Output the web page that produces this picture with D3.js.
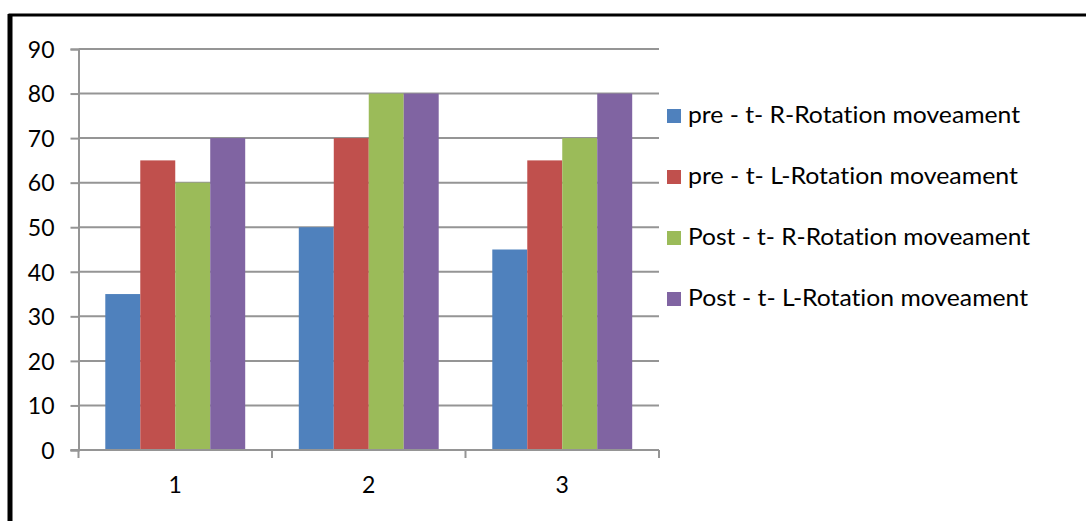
<!DOCTYPE html>
<html>
<head>
<meta charset="utf-8">
<script src="https://cdn.jsdelivr.net/npm/d3@7"></script>
<style>
  html, body { margin: 0; padding: 0; background: #fff; overflow: hidden; }
  svg { display: block; }
  text { font-family: Lato, "Open Sans", sans-serif; fill: #000; font-variant-ligatures: none; font-feature-settings: "liga" 0; }
</style>
</head>
<body>
<svg id="chart" width="1086" height="521"></svg>
<script>
// Categories along the x axis
const categories = ["1", "2", "3"];

// Series names (legend) and their colours
const seriesNames = [
  "pre - t- R-Rotation moveament",
  "pre - t- L-Rotation moveament",
  "Post - t- R-Rotation moveament",
  "Post - t- L-Rotation moveament"
];
const seriesColors = ["#4F81BD", "#C0504D", "#9BBB59", "#8064A2"];

// Values per series, one per category
const preR  = [35, 50, 45];
const preL  = [65, 70, 65];
const postR = [60, 80, 70];
const postL = [70, 80, 80];
const seriesValues = [preR, preL, postR, postL];

// Y axis ticks
const yTicks = [0, 10, 20, 30, 40, 50, 60, 70, 80, 90];

const svg = d3.select("#chart");
const gridColor = "#959595";

// Outer frame (runs off the right and bottom edges)
svg.append("rect")
  .attr("x", 10).attr("y", 15)
  .attr("width", 1100).attr("height", 530)
  .attr("fill", "none").attr("stroke", "#000").attr("stroke-width", 3);
svg.append("line")
  .attr("x1", 10).attr("x2", 10).attr("y1", 14).attr("y2", 521)
  .attr("stroke", "#000").attr("stroke-width", 5);

const plot = { left: 78.5, right: 659, top: 49, bottom: 450 };

const x0 = d3.scaleBand().domain(categories).range([plot.left, plot.right]).padding(0);
const x1 = d3.scaleBand().domain(d3.range(seriesNames.length))
  .range([0, x0.bandwidth()]).paddingInner(0).paddingOuter(0.766);
const y = d3.scaleLinear().domain([0, 90]).range([plot.bottom, plot.top]);

// Horizontal gridlines
svg.append("g").selectAll("line")
  .data(yTicks.filter(d => d > 0))
  .join("line")
  .attr("x1", plot.left).attr("x2", plot.right)
  .attr("y1", d => y(d)).attr("y2", d => y(d))
  .attr("stroke", gridColor).attr("stroke-width", 2);

// Y axis with left tick marks and labels
const yAxis = d3.axisLeft(y).tickValues(yTicks).tickSize(8).tickPadding(16);
const yg = svg.append("g").attr("transform", `translate(${plot.left},0)`).call(yAxis);
yg.select(".domain").attr("stroke", gridColor).attr("stroke-width", 2);
yg.selectAll(".tick line").attr("stroke", gridColor).attr("stroke-width", 2);
yg.selectAll(".tick text")
  .attr("font-size", 23)
  .attr("font-family", "Lato, sans-serif")
  .attr("fill", "#000")
  .attr("dy", "0.36em");

// Bars
const groups = svg.append("g").selectAll("g")
  .data(categories)
  .join("g")
  .attr("transform", d => `translate(${x0(d)},0)`);

groups.selectAll("rect")
  .data((c, ci) => seriesValues.map((vals, si) => ({ si, v: vals[ci] })))
  .join("rect")
  .attr("x", d => x1(d.si))
  .attr("width", x1.bandwidth())
  .attr("y", d => y(d.v))
  .attr("height", d => y(0) - y(d.v))
  .attr("fill", d => seriesColors[d.si]);

// X axis with ticks at category boundaries
const xg = svg.append("g").attr("transform", `translate(0,${plot.bottom})`);
xg.append("line")
  .attr("x1", plot.left - 8).attr("x2", plot.right)
  .attr("stroke", gridColor).attr("stroke-width", 2);
const bounds = categories.map(c => x0(c)).concat([plot.right]);
xg.selectAll("line.tick")
  .data(bounds)
  .join("line").attr("class", "tick")
  .attr("x1", d => d).attr("x2", d => d)
  .attr("y1", 0).attr("y2", 8)
  .attr("stroke", gridColor).attr("stroke-width", 2);
xg.selectAll("text")
  .data(categories)
  .join("text")
  .attr("x", d => x0(d) + x0.bandwidth() / 2)
  .attr("y", 43)
  .attr("text-anchor", "middle")
  .attr("font-size", 23)
  .text(d => d);

// Legend
const legendWidths = [332, 330, 342, 340];
const legend = svg.append("g").attr("transform", "translate(667,109)");
const rows = legend.selectAll("g")
  .data(seriesNames)
  .join("g")
  .attr("transform", (d, i) => `translate(0,${i * 61})`);
rows.append("rect")
  .attr("width", 14).attr("height", 14)
  .attr("fill", (d, i) => seriesColors[i]);
rows.append("text")
  .attr("x", 21).attr("y", 14)
  .attr("font-size", 23)
  .attr("textLength", (d, i) => legendWidths[i])
  .attr("lengthAdjust", "spacingAndGlyphs")
  .text(d => d);
</script>
</body>
</html>
